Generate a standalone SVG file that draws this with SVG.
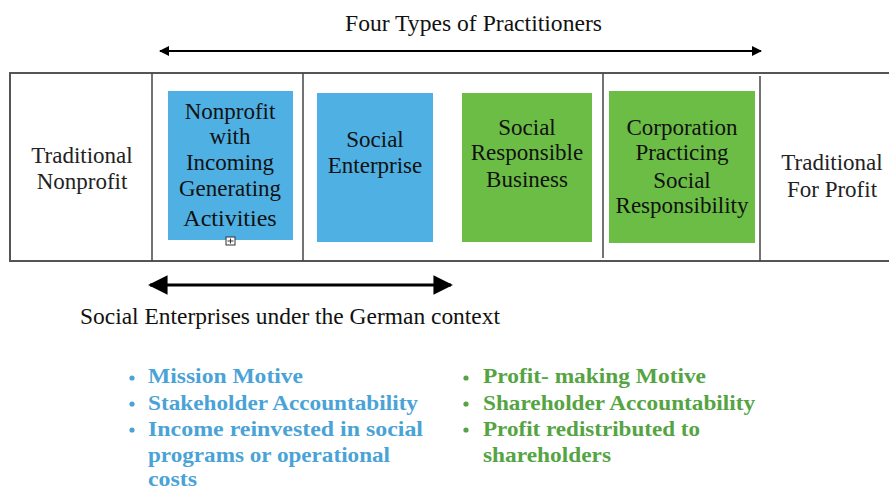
<svg xmlns="http://www.w3.org/2000/svg" width="889" height="489" viewBox="0 0 889 489">
  <style>
    .lbl { font-family: "Liberation Serif", "DejaVu Serif", serif; font-size: 23px; fill: #111; text-anchor: middle; }
    .cap { font-family: "Liberation Serif", "DejaVu Serif", serif; font-size: 23px; fill: #111; }
    .side { fill: #222; }
    .blue { fill: #4FB0E3; }
    .green { fill: #6BBD45; }
    .div { stroke: #444; stroke-width: 1.5; }
    .bl { font-family: "Liberation Serif", "DejaVu Serif", serif; font-size: 22px; font-weight: bold; fill: #4AA3D6; }
    .gr { font-family: "Liberation Serif", "DejaVu Serif", serif; font-size: 22px; font-weight: bold; fill: #55A443; }
  </style>
  <defs>
    <marker id="headS" viewBox="0 0 10 10" refX="9" refY="5" markerWidth="5" markerHeight="5" orient="auto-start-reverse" markerUnits="strokeWidth">
      <path d="M0,0 L10,5 L0,10 Z" fill="#000"/>
    </marker>
    <marker id="headL" viewBox="0 0 10 10" refX="9" refY="5" markerWidth="6.5" markerHeight="6.5" orient="auto-start-reverse" markerUnits="strokeWidth">
      <path d="M0,0 L10,5 L0,10 Z" fill="#000"/>
    </marker>
  </defs>

  <rect width="889" height="489" fill="#fff"/>

  <!-- spectrum frame and column dividers -->
  <g id="frame">
    <rect x="10" y="73" width="890" height="188" fill="none" stroke="#555" stroke-width="2"/>
    <line class="div" x1="152" y1="73" x2="152" y2="261"/>
    <line class="div" x1="303" y1="73" x2="303" y2="261"/>
    <line class="div" x1="603" y1="73" x2="603" y2="258"/>
    <line class="div" x1="760" y1="76" x2="760" y2="261"/>
  </g>

  <g id="traditional-nonprofit">
    <text class="lbl side" x="82" y="163">Traditional</text>
    <text class="lbl side" x="82" y="189">Nonprofit</text>
  </g>

  <g id="nonprofit-income">
    <rect class="blue" x="168" y="91" width="125" height="149"/>
    <text class="lbl" x="230" y="119">Nonprofit</text>
    <text class="lbl" x="230" y="144">with</text>
    <text class="lbl" x="230" y="170">Incoming</text>
    <text class="lbl" x="230" y="196">Generating</text>
    <text class="lbl" x="230" y="226" style="font-size:24px">Activities</text>
    <rect x="226" y="237" width="9" height="8" fill="#fff" stroke="#333" stroke-width="1"/>
    <path d="M230.5,238.5 V243.5 M227.5,241 H233.5" stroke="#333" stroke-width="1"/>
  </g>

  <g id="social-enterprise">
    <rect class="blue" x="317" y="93" width="116" height="149"/>
    <text class="lbl" x="375" y="147">Social</text>
    <text class="lbl" x="375" y="173">Enterprise</text>
  </g>

  <g id="social-responsible-business">
    <rect class="green" x="462" y="93" width="130" height="149"/>
    <text class="lbl" x="527" y="135">Social</text>
    <text class="lbl" x="527" y="160">Responsible</text>
    <text class="lbl" x="527" y="187">Business</text>
  </g>

  <g id="corporation-csr">
    <rect class="green" x="609" y="91" width="146" height="152"/>
    <text class="lbl" x="682" y="135">Corporation</text>
    <text class="lbl" x="682" y="160">Practicing</text>
    <text class="lbl" x="682" y="188">Social</text>
    <text class="lbl" x="682" y="213">Responsibility</text>
  </g>

  <g id="traditional-for-profit">
    <text class="lbl side" x="832" y="170">Traditional</text>
    <text class="lbl side" x="832" y="197">For Profit</text>
  </g>

  <!-- range arrows -->
  <g id="connectors">
    <line x1="160" y1="51" x2="761" y2="51" stroke="#000" stroke-width="2" marker-start="url(#headS)" marker-end="url(#headS)"/>
    <line x1="150" y1="285" x2="451" y2="285" stroke="#000" stroke-width="3" marker-start="url(#headL)" marker-end="url(#headL)"/>
  </g>

  <text class="cap" x="345" y="31" textLength="257" lengthAdjust="spacingAndGlyphs">Four Types of Practitioners</text>
  <text class="cap" x="80" y="324" textLength="420" lengthAdjust="spacingAndGlyphs">Social Enterprises under the German context</text>

  <!-- nonprofit-side characteristics -->
  <g id="nonprofit-traits">
    <circle cx="132" cy="378" r="2.6" fill="#4AA3D6"/>
    <circle cx="132" cy="404" r="2.6" fill="#4AA3D6"/>
    <circle cx="132" cy="430" r="2.6" fill="#4AA3D6"/>
    <text class="bl" x="148" y="383" textLength="155" lengthAdjust="spacingAndGlyphs">Mission Motive</text>
    <text class="bl" x="148" y="410" textLength="270" lengthAdjust="spacingAndGlyphs">Stakeholder Accountability</text>
    <text class="bl" x="148" y="436" textLength="275" lengthAdjust="spacingAndGlyphs">Income reinvested in social</text>
    <text class="bl" x="148" y="462" textLength="242" lengthAdjust="spacingAndGlyphs">programs or operational</text>
    <text class="bl" x="148" y="486" textLength="49" lengthAdjust="spacingAndGlyphs">costs</text>
  </g>

  <!-- for-profit-side characteristics -->
  <g id="forprofit-traits">
    <circle cx="466" cy="378" r="2.6" fill="#55A443"/>
    <circle cx="466" cy="404" r="2.6" fill="#55A443"/>
    <circle cx="466" cy="430" r="2.6" fill="#55A443"/>
    <text class="gr" x="483" y="383" textLength="223" lengthAdjust="spacingAndGlyphs">Profit- making Motive</text>
    <text class="gr" x="483" y="410" textLength="272" lengthAdjust="spacingAndGlyphs">Shareholder Accountability</text>
    <text class="gr" x="483" y="436" textLength="217" lengthAdjust="spacingAndGlyphs">Profit redistributed to</text>
    <text class="gr" x="483" y="462" textLength="128" lengthAdjust="spacingAndGlyphs">shareholders</text>
  </g>
</svg>
